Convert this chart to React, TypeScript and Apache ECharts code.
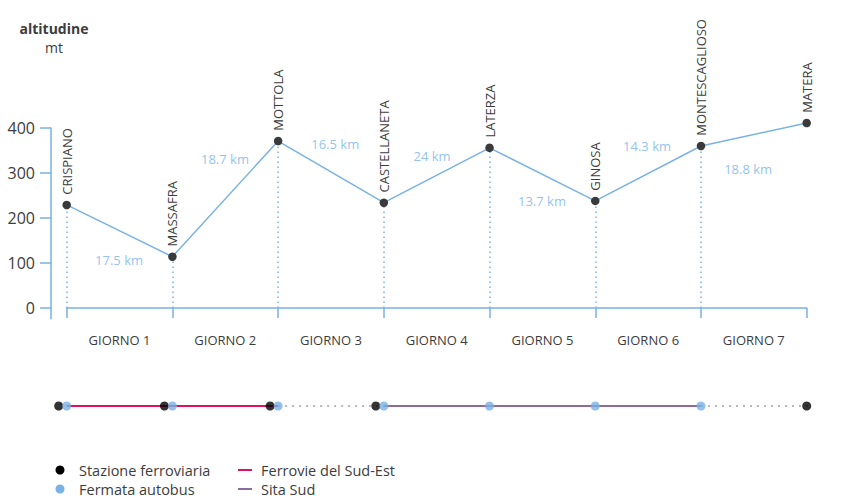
import React, { useEffect, useRef } from "react";
import * as echarts from "echarts";

// ---- data ----
const stations = ["CRISPIANO", "MASSAFRA", "MOTTOLA", "CASTELLANETA", "LATERZA", "GINOSA", "MONTESCAGLIOSO", "MATERA"];
const altitudes = [229, 114, 371, 234, 356, 238, 360, 411];
const days = ["GIORNO 1", "GIORNO 2", "GIORNO 3", "GIORNO 4", "GIORNO 5", "GIORNO 6", "GIORNO 7"];
const distances = ["17.5 km", "18.7 km", "16.5 km", "24 km", "13.7 km", "14.3 km", "18.8 km"];
const yTicks = [0, 100, 200, 300, 400];
const hasTrainStation = [true, true, true, true, false, false, false, true];
const hasBusStop = [true, true, true, true, true, true, true, false];
const segmentOperator = ["fse", "fse", "none", "sita", "sita", "sita", "none"];

// ---- layout (label anchors in axis units) ----
const kmLabelX = [0.495, 1.497, 2.54, 3.456, 4.496, 5.49, 6.446];
const kmLabelY = [107, 331, 364, 338, 238, 360, 309];
const tailEnd = 7.3;

const FONT = "'Open Sans', 'Noto Sans', sans-serif";
const BLUE = "#78b2e5";
const DARK = "#3a3a3a";
const TEXT = "#3c3c3c";
const FSE = "#e3115b";
const SITA = "#8d6b9c";

function segData(type: string) {
  const out: any[] = [];
  segmentOperator.forEach((op, i) => {
    if (op === type) {
      out.push([i, 0], [i + 1, 0], "-");
    }
  });
  return out;
}

export default function App() {
  const ref = useRef<HTMLDivElement>(null);
  useEffect(() => {
    if (!ref.current) return;
    const chart = echarts.init(ref.current, null, { renderer: "svg" });
    const dotted = segData("none");
    dotted.push([7, 0], [tailEnd, 0]);
    const legendText = (text: string, x: number, y: number) => ({
      type: "text",
      x,
      y,
      style: { text, font: `14.5px ${FONT}`, fill: TEXT, verticalAlign: "middle", lineHeight: 15 },
    });
    const option: any = {
      animation: false,
      textStyle: { fontFamily: FONT },
      grid: [
        { left: 66.7, right: 36.3, top: 128, height: 190.8 },
        { left: 66.7, right: 36.3, top: 396, height: 20 },
      ],
      xAxis: [
        {
          type: "category",
          gridIndex: 0,
          data: days,
          boundaryGap: true,
          axisLine: { onZero: true, lineStyle: { color: BLUE, width: 1.5 } },
          axisTick: { show: true, length: 10, lineStyle: { color: BLUE, width: 1.5 } },
          axisLabel: { margin: 15, color: TEXT, fontSize: 13, fontFamily: FONT },
          splitLine: { show: false },
        },
        { type: "value", gridIndex: 0, min: 0, max: 7, show: false },
        { type: "value", gridIndex: 1, min: 0, max: 7, show: false },
      ],
      yAxis: [
        {
          type: "value",
          gridIndex: 0,
          min: -24,
          max: 400,
          offset: 15.7,
          axisLine: { show: true, onZero: false, lineStyle: { color: BLUE, width: 1.5 } },
          axisTick: { show: true, length: 11, customValues: yTicks, lineStyle: { color: BLUE, width: 1.5 } },
          axisLabel: { margin: 16, customValues: yTicks, color: TEXT, fontSize: 16, fontFamily: FONT },
          splitLine: { show: false },
        },
        { type: "value", gridIndex: 1, min: -1, max: 1, show: false },
      ],
      series: [
        {
          type: "line",
          xAxisIndex: 1,
          yAxisIndex: 0,
          clip: false,
          data: altitudes.map((v, i) => [i, v]),
          lineStyle: { color: BLUE, width: 1.5 },
          symbol: "circle",
          symbolSize: 8.5,
          itemStyle: { color: DARK },
          z: 5,
          label: {
            show: true,
            position: "top",
            rotate: 90,
            align: "left",
            verticalAlign: "middle",
            distance: 6,
            color: TEXT,
            fontSize: 13,
            fontFamily: FONT,
            formatter: (p: any) => stations[p.dataIndex],
          },
          markLine: {
            silent: true,
            symbol: "none",
            label: { show: false },
            lineStyle: { color: BLUE, width: 1.5, type: [1.5, 3.5] },
            data: altitudes.map((v, i) => [{ coord: [i, 0] }, { coord: [i, v] }]),
          },
        },
        {
          type: "scatter",
          xAxisIndex: 1,
          yAxisIndex: 0,
          symbolSize: 0,
          data: distances.map((d, i) => [kmLabelX[i], kmLabelY[i]]),
          label: {
            show: true,
            position: "inside",
            color: BLUE,
            fontSize: 13,
            fontFamily: FONT,
            formatter: (p: any) => distances[p.dataIndex],
          },
          silent: true,
        },
        // route diagram
        {
          type: "line",
          xAxisIndex: 2,
          yAxisIndex: 1,
          data: segData("fse"),
          symbol: "none",
          lineStyle: { color: FSE, width: 2 },
          z: 2,
        },
        {
          type: "line",
          xAxisIndex: 2,
          yAxisIndex: 1,
          data: segData("sita"),
          symbol: "none",
          lineStyle: { color: SITA, width: 2 },
          z: 2,
        },
        {
          type: "line",
          xAxisIndex: 2,
          yAxisIndex: 1,
          data: dotted,
          symbol: "none",
          clip: false,
          lineStyle: { color: "#b8b8b8", width: 2, type: [2, 5] },
          z: 1,
        },
        {
          type: "scatter",
          xAxisIndex: 2,
          yAxisIndex: 1,
          symbolSize: 9,
          itemStyle: { color: "#000000" },
          z: 3,
          data: hasTrainStation
            .map((t, i) => (t ? { value: [i, 0], symbolOffset: hasBusStop[i] ? [-8, 0] : [0, 0] } : null))
            .filter((d) => d !== null),
        },
        {
          type: "scatter",
          xAxisIndex: 2,
          yAxisIndex: 1,
          symbolSize: 9,
          itemStyle: { color: BLUE },
          z: 4,
          data: hasBusStop.map((b, i) => (b ? [i, 0] : null)).filter((d) => d !== null),
        },
      ],
      graphic: [
        {
          type: "text",
          x: 54,
          y: 28,
          style: { text: "altitudine", font: `bold 14px ${FONT}`, fill: TEXT, align: "center", verticalAlign: "middle", lineHeight: 14 },
        },
        {
          type: "text",
          x: 54,
          y: 47,
          style: { text: "mt", font: `14px ${FONT}`, fill: TEXT, align: "center", verticalAlign: "middle", lineHeight: 14 },
        },
        { type: "circle", shape: { cx: 60, cy: 470, r: 4.5 }, style: { fill: "#000" } },
        legendText("Stazione ferroviaria", 79, 470),
        { type: "circle", shape: { cx: 60, cy: 489, r: 4.5 }, style: { fill: BLUE } },
        legendText("Fermata autobus", 79, 489),
        { type: "line", shape: { x1: 238, y1: 470, x2: 252, y2: 470 }, style: { stroke: FSE, lineWidth: 2 } },
        legendText("Ferrovie del Sud-Est", 261, 470),
        { type: "line", shape: { x1: 238, y1: 489, x2: 252, y2: 489 }, style: { stroke: SITA, lineWidth: 2 } },
        legendText("Sita Sud", 261, 489),
      ],
    };
    chart.setOption(option);
    return () => chart.dispose();
  }, []);
  return (
    <div
      ref={ref}
      style={{ position: "fixed", left: 0, top: 0, width: 843, height: 498, background: "#fff" }}
    />
  );
}
